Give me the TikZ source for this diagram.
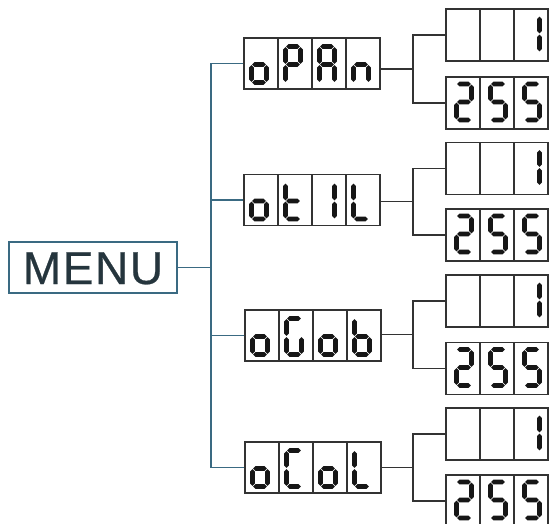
\documentclass[tikz,border=0pt]{standalone}
\usepackage{fontspec}
\setmainfont{Liberation Sans}
\definecolor{teal}{HTML}{3A6A82}
\definecolor{menutext}{HTML}{25353D}
\definecolor{linegray}{HTML}{333333}
\definecolor{segcol}{HTML}{161616}
\newcommand\sgap{0.7}
\newcommand\sthk{4.6}
\newcommand\segW{15}
\newcommand\segH{36}
% horizontal segment: x1, x2, y
\newcommand\myhseg[3]{%
  \fill[segcol] ({#1+\sgap},{#3}) -- ({#1+\sgap+\sthk/2},{#3-\sthk/2}) -- ({#2-\sgap-\sthk/2},{#3-\sthk/2}) -- ({#2-\sgap},{#3}) -- ({#2-\sgap-\sthk/2},{#3+\sthk/2}) -- ({#1+\sgap+\sthk/2},{#3+\sthk/2}) -- cycle;}
% vertical segment: x, y1, y2
\newcommand\myvseg[3]{%
  \fill[segcol] ({#1},{#2+\sgap}) -- ({#1+\sthk/2},{#2+\sgap+\sthk/2}) -- ({#1+\sthk/2},{#3-\sgap-\sthk/2}) -- ({#1},{#3-\sgap}) -- ({#1-\sthk/2},{#3-\sgap-\sthk/2}) -- ({#1-\sthk/2},{#2+\sgap+\sthk/2}) -- cycle;}
\newcommand\dsega[2]{\myhseg{#1}{#1+\segW}{#2}}
\newcommand\dsegb[2]{\myvseg{#1+\segW}{#2}{#2+\segH/2}}
\newcommand\dsegc[2]{\myvseg{#1+\segW}{#2+\segH/2}{#2+\segH}}
\newcommand\dsegd[2]{\myhseg{#1}{#1+\segW}{#2+\segH}}
\newcommand\dsege[2]{\myvseg{#1}{#2+\segH/2}{#2+\segH}}
\newcommand\dsegf[2]{\myvseg{#1}{#2}{#2+\segH/2}}
\newcommand\dsegg[2]{\myhseg{#1}{#1+\segW}{#2+\segH/2}}
% digit at centerline origin x,y with segment list
\newcommand\sevdig[3]{\foreach \s in {#3} {\csname dseg\s\endcsname{#1}{#2}}}
% middle display: left x, top y, four segment lists
\newcommand\midcells[6]{%
  \foreach \k in {1,2,3} {\draw[boxline] ({#1+34*\k},{#2}) -- ({#1+34*\k},{#2+51});}
  \sevdig{#1+7.5}{#2+8.5}{#3}\sevdig{#1+41.5}{#2+8.5}{#4}\sevdig{#1+75.5}{#2+8.5}{#5}\sevdig{#1+109.5}{#2+8.5}{#6}}
\newcommand\rightcells[5]{%
  \foreach \k in {1,2} {\draw[boxline] ({#1+34*\k},{#2}) -- ({#1+34*\k},{#2+52});}
  \sevdig{#1+10.5}{#2+7}{#3}\sevdig{#1+44.5}{#2+7}{#4}\sevdig{#1+78.5}{#2+7}{#5}}
\tikzset{
  boxline/.style={draw=linegray, line width=1.1pt},
  menubox/.style={draw=teal, line width=1.3pt, minimum width=168pt, minimum height=51pt, inner sep=0pt, text height=33pt, text depth=0pt, text=menutext, font=\fontsize{46}{46}\selectfont\addfontfeature{LetterSpace=3.5,FakeBold=0.6}},
  midbox/.style={boxline, minimum width=136pt, minimum height=51pt, inner sep=0pt},
  rbox/.style={boxline, minimum width=102pt, minimum height=52pt, inner sep=0pt},
  trunk/.style={draw=teal, line width=1.2pt},
  branch/.style={draw=linegray, line width=1.1pt},
}
\begin{document}
\begin{tikzpicture}[x=1pt,y=-1pt]
\useasboundingbox (0,0) rectangle (549,524);
\fill[white] (0,0) rectangle (549,524);
\begin{scope}
\clip (0,0) rectangle (549,524);
\node[menubox] (menu) at (93,267.5) {MENU};
% middle displays
\node[midbox] (m1) at (312,63.5) {};
\node[midbox] (m2) at (312,200) {};
\node[midbox] (m3) at (313,335.5) {};
\node[midbox] (m4) at (313,467.5) {};
% right displays
\node[rbox] (r1a) at (497,35) {};
\node[rbox] (r1b) at (497,103) {};
\node[rbox] (r2a) at (497,168.5) {};
\node[rbox] (r2b) at (497,235) {};
\node[rbox] (r3a) at (497,301) {};
\node[rbox] (r3b) at (497,368.5) {};
\node[rbox] (r4a) at (497,434) {};
\node[rbox] (r4b) at (497,501) {};
% segments
\midcells{244}{38}{c,d,e,g}{a,b,e,f,g}{a,b,c,e,f,g}{c,e,g}
\midcells{244}{174.5}{c,d,e,g}{d,e,f,g}{b,c}{d,e,f}
\midcells{245}{310}{c,d,e,g}{a,c,d,e,f}{c,d,e,g}{c,d,e,f,g}
\midcells{245}{442}{c,d,e,g}{a,d,e,f}{c,d,e,g}{d,e,f}
\rightcells{446}{9}{}{}{b,c}
\rightcells{446}{77}{a,b,g,e,d}{a,f,g,c,d}{a,f,g,c,d}
\rightcells{446}{142.5}{}{}{b,c}
\rightcells{446}{209}{a,b,g,e,d}{a,f,g,c,d}{a,f,g,c,d}
\rightcells{446}{275}{}{}{b,c}
\rightcells{446}{342.5}{a,b,g,e,d}{a,f,g,c,d}{a,f,g,c,d}
\rightcells{446}{408}{}{}{b,c}
\rightcells{446}{475}{a,b,g,e,d}{a,f,g,c,d}{a,f,g,c,d}
% trunk
\coordinate (tx) at (211,0);
\draw[trunk] (menu.east) -- (menu.east -| tx);
\draw[trunk] (m1.west) -- (m1.west -| tx) -- (m4.west -| tx) -- (m4.west);
\draw[trunk] (m2.west -| tx) -- (m2.west);
\draw[trunk] (m3.west -| tx) -- (m3.west);
% branches
\coordinate (b1) at (413,69);
\coordinate (b2) at (413,201.75);
\coordinate (b3) at (413,334.75);
\coordinate (b4) at (413,467.5);
\draw[branch] (m1.east |- b1) -- (b1);
\draw[branch] (m2.east |- b2) -- (b2);
\draw[branch] (m3.east |- b3) -- (b3);
\draw[branch] (m4.east |- b4) -- (b4);
\draw[branch] (r1a.west) -| (b1) |- (r1b.west);
\draw[branch] (r2a.west) -| (b2) |- (r2b.west);
\draw[branch] (r3a.west) -| (b3) |- (r3b.west);
\draw[branch] (r4a.west) -| (b4) |- (r4b.west);
\end{scope}
\end{tikzpicture}
\end{document}
